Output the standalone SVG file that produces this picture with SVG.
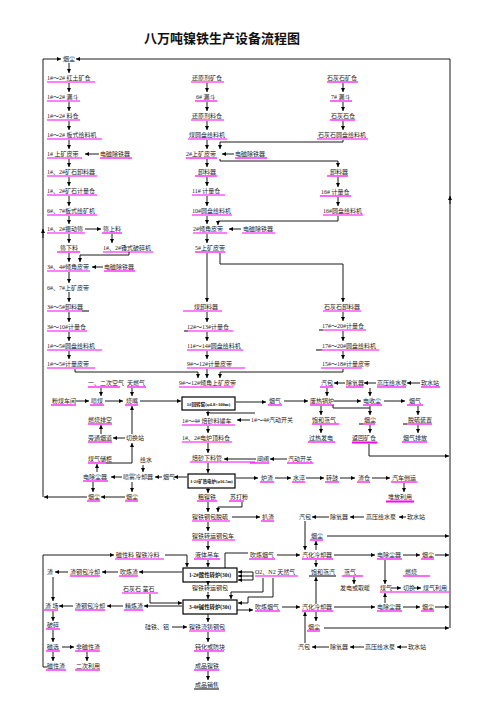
<svg xmlns="http://www.w3.org/2000/svg" width="503" height="711" viewBox="0 0 503 711">
<style>
.t{font-family:"Liberation Serif","Noto Sans CJK SC",serif;font-size:6px;fill:#222}
.ti{font-family:"Liberation Serif","Noto Sans CJK SC",serif;font-size:13px;font-weight:bold;fill:#111;text-anchor:middle}
.bt{font-family:"Liberation Serif","Noto Sans CJK SC",serif;font-size:5px;font-weight:bold;fill:#111;text-anchor:middle}
.u{stroke:#f0f;stroke-width:1.2;fill:none}
.k{stroke:#000;stroke-width:1;fill:none}
.c{stroke:#000;stroke-width:0.9;fill:none}
.a{marker-end:url(#ah)}
.box{fill:#fff;stroke:#000;stroke-width:1.2}
</style>
<defs>
<marker id="ah" viewBox="0 0 6 6" refX="6" refY="3" markerUnits="userSpaceOnUse" markerWidth="4" markerHeight="4" orient="auto"><path d="M0,0 L6,3 L0,6 z" fill="#000"/></marker>
</defs>
<rect width="503" height="711" fill="#fff"/>
<text class="ti" x="222" y="43">八万吨镍铁生产设备流程图</text>

<g id="nodes">
<g id="a0"><text class="t" x="63" y="61.2">烟尘</text></g>
<g id="a1"><text class="t" x="47" y="80.2">1#～2# 红土矿仓</text><path class="u" d="M47 82H95"/></g>
<g id="a2"><text class="t" x="47" y="99.2">1#～2# 漏斗</text><path class="u" d="M47 101H80"/></g>
<g id="a3"><text class="t" x="47" y="118.2">1#～2# 料仓</text><path class="u" d="M47 120H80"/></g>
<g id="a4"><text class="t" x="47" y="137.2">1#～2# 板式给料机</text><path class="u" d="M47 139H102"/></g>
<g id="a5"><text class="t" x="47" y="156.2">1# 上矿皮带</text><path class="u" d="M47 158H82"/></g>
<g id="a5e"><text class="t" x="100" y="156.2">电磁除铁器</text><path class="u" d="M100 158H132"/></g>
<g id="a6"><text class="t" x="47" y="174.2">1#、2#矿石卸料器</text><path class="u" d="M47 176H97"/></g>
<g id="a7"><text class="t" x="47" y="193.2">1#、2#矿石计量仓</text><path class="u" d="M47 195H97"/></g>
<g id="a8"><text class="t" x="47" y="213.2">6#、7#板式给矿机</text><path class="u" d="M47 215H97"/></g>
<g id="a9"><text class="t" x="47" y="231.2">1#、2#振动筛</text><path class="u" d="M47 233H85"/></g>
<g id="a9a"><text class="t" x="103" y="231.2">筛上料</text><path class="u" d="M102 233H122"/></g>
<g id="a9b"><text class="t" x="60" y="250.2">筛下料</text><path class="u" d="M57 252H80"/></g>
<g id="a9c"><text class="t" x="103" y="250.2">1#、2#锤式破碎机</text><path class="u" d="M103 252H153"/></g>
<g id="a10"><text class="t" x="47" y="269.2">3#、4#倾角皮带</text><path class="u" d="M47 271H90"/></g>
<g id="a10e"><text class="t" x="104" y="269.2">电磁除铁器</text><path class="u" d="M104 271H135"/></g>
<g id="a11"><text class="t" x="47" y="290.2">6#、7#上矿皮带</text></g>
<g id="a12"><text class="t" x="47" y="309.2">3#～5#卸料器</text><path class="u" d="M47 311H82"/><path class="k" d="M82 311H89"/></g>
<g id="a13"><text class="t" x="47" y="329.2">3#～10#计量仓</text><path class="u" d="M47 331H87"/></g>
<g id="a14"><text class="t" x="47" y="348.2">1#～5#圆盘给料机</text><path class="u" d="M47 350H102"/></g>
<g id="a15"><text class="t" x="47" y="366.2">1#～5#计量皮带</text><path class="u" d="M47 368H95"/></g>

<g id="b1"><text class="t" x="192" y="80.2">还原剂矿仓</text><path class="u" d="M191 82H224"/></g>
<g id="b2"><text class="t" x="196" y="99.2">6# 漏斗</text><path class="u" d="M195 101H217"/></g>
<g id="b3"><text class="t" x="192" y="118.2">还原剂料仓</text><path class="u" d="M191 120H224"/></g>
<g id="b4"><text class="t" x="189" y="137.2">煤圆盘给料机</text><path class="u" d="M188 139H227"/></g>
<g id="b5"><text class="t" x="186" y="156.2">2#上矿皮带</text><path class="u" d="M186 158H217"/></g>
<g id="b5e"><text class="t" x="235" y="156.2">电磁除铁器</text><path class="u" d="M235 158H267"/></g>
<g id="b6"><text class="t" x="198" y="174.2">卸料器</text><path class="u" d="M195 176H217"/></g>
<g id="b7"><text class="t" x="192" y="193.2">11# 计量仓</text><path class="u" d="M192 195H225"/></g>
<g id="b8"><text class="t" x="192" y="213.2">10#圆盘给料机</text><path class="u" d="M192 215H232"/></g>
<g id="b9"><text class="t" x="193" y="231.2">2#倾角皮带</text><path class="u" d="M193 233H227"/></g>
<g id="b9e"><text class="t" x="243" y="231.2">电磁除铁器</text><path class="u" d="M242 233H275"/></g>
<g id="b10"><text class="t" x="195" y="250.2">5#上矿皮带</text><path class="u" d="M195 252H225"/></g>
<g id="b11"><text class="t" x="194" y="309.2">煤卸料器</text><path class="u" d="M183 311H222"/></g>
<g id="b12"><text class="t" x="187" y="329.2">12#～13#计量仓</text><path class="k" d="M184 331H188"/><path class="u" d="M188 331H233"/></g>
<g id="b13"><text class="t" x="187" y="348.2">11#～14#圆盘给料机</text><path class="u" d="M187 350H243"/></g>
<g id="b14"><text class="t" x="187" y="366.2">9#～12#计量皮带</text><path class="u" d="M187 368H245"/></g>
<g id="b15"><text class="t" x="179" y="385.2">9#～12#倾角上矿皮带</text><path class="u" d="M179 387H233"/></g>

<g id="c1"><text class="t" x="327" y="80.2">石灰石矿仓</text><path class="u" d="M327 82H358"/></g>
<g id="c2"><text class="t" x="331" y="99.2">7# 漏斗</text><path class="u" d="M330 101H352"/></g>
<g id="c3"><text class="t" x="331" y="118.2">石灰石仓</text><path class="u" d="M330 120H355"/></g>
<g id="c4"><text class="t" x="318" y="137.2">石灰石圆盘给料机</text><path class="u" d="M317 139H368"/></g>
<g id="c5"><text class="t" x="330" y="174.2">卸料器</text><path class="u" d="M327 176H348"/></g>
<g id="c6"><text class="t" x="321" y="194.2">16# 计量仓</text><path class="u" d="M320 196H351"/></g>
<g id="c7"><text class="t" x="323" y="213.2">16#圆盘给料机</text><path class="u" d="M323 215H363"/></g>
<g id="c8"><text class="t" x="324" y="309.2">石灰石卸料器</text><path class="u" d="M323 311H361"/></g>
<g id="c9"><text class="t" x="322" y="328.2">17#～20#计量仓</text><path class="k" d="M319 330H323"/><path class="u" d="M323 330H366"/></g>
<g id="c10"><text class="t" x="322" y="348.2">17#～20#圆盘给料机</text><path class="k" d="M316 350H322"/><path class="u" d="M322 350H379"/></g>
<g id="c11"><text class="t" x="322" y="366.2">15#～18#计量皮带</text><path class="u" d="M321 368H362"/></g>

<g id="d1"><text class="t" x="88" y="385.2">一、二次空气</text><path class="u" d="M88 387H120"/></g>
<g id="d2"><text class="t" x="127" y="385.2">天燃气</text><path class="u" d="M127 387H146"/></g>
<g id="d3"><text class="t" x="52" y="403.2">粉煤车间</text><path class="u" d="M51 405H76"/></g>
<g id="d4"><text class="t" x="91" y="403.2">喷煤</text><path class="u" d="M90 405H104"/></g>
<g id="d5"><text class="t" x="126" y="403.2">烧嘴</text><path class="u" d="M125 405H138"/></g>
<g id="d6"><rect class="box" x="182" y="397" width="53" height="13"/><text class="bt" x="208.5" y="405.5" style="font-size:4.6px">1#回转窑(φ4.8×100m)</text></g>
<g id="d7"><text class="t" x="269" y="403.2">烟气</text><path class="u" d="M268 405H282"/></g>
<g id="d8"><text class="t" x="310" y="403.2">废热锅炉</text><path class="u" d="M310 405H334"/></g>
<g id="d9"><text class="t" x="363" y="403.2">电收尘</text><path class="u" d="M363 405H382"/></g>
<g id="d10"><text class="t" x="409" y="403.2">烟气</text><path class="u" d="M407 405H423"/></g>
<g id="d11"><text class="t" x="321" y="385.2">汽包</text><path class="u" d="M320 387H333"/></g>
<g id="d12"><text class="t" x="346" y="385.2">除氧器</text><path class="u" d="M346 387H363"/></g>
<g id="d13"><text class="t" x="377" y="385.2">高压给水泵</text><path class="u" d="M377 387H406"/></g>
<g id="d14"><text class="t" x="421" y="385.2">软水站</text><path class="u" d="M421 387H440"/></g>
<g id="d15"><text class="t" x="88" y="422.2">燃烧排空</text><path class="u" d="M88 424H112"/></g>
<g id="d16"><text class="t" x="182" y="423.2">1#～4# 焙砂料罐车</text><path class="u" d="M182 425H235"/></g>
<g id="d17"><text class="t" x="251" y="422.2">1#～4#汽动开关</text></g>
<g id="d18"><text class="t" x="312" y="422.2">饱和蒸气</text><path class="u" d="M312 424H339"/></g>
<g id="d19"><text class="t" x="364" y="422.2">烟尘</text><path class="k" d="M359 424H363"/><path class="u" d="M363 424H375"/></g>
<g id="d20"><text class="t" x="408" y="422.2">脱硫装置</text><path class="k" d="M403 424H407"/><path class="u" d="M407 424H432"/></g>
<g id="d21"><text class="t" x="88" y="440.2">旁通烟道</text><path class="u" d="M88 442H112"/></g>
<g id="d22"><text class="t" x="126" y="440.2">切换站</text></g>
<g id="d23"><text class="t" x="182" y="440.2">1#、2#电炉顶料仓</text><path class="u" d="M182 442H232"/></g>
<g id="d24"><text class="t" x="309" y="440.2">过热发电</text><path class="u" d="M308 442H335"/></g>
<g id="d25"><text class="t" x="352" y="440.2">返回矿仓</text><path class="u" d="M352 442.5H377" style="stroke-width:2"/></g>
<g id="d26"><text class="t" x="403" y="440.2">烟气排放</text><path class="u" d="M402 442H427"/></g>
<g id="d27"><text class="t" x="88" y="461.2">煤气储柜</text><path class="u" d="M88 463H106"/><path class="k" d="M106 463H112"/></g>
<g id="d28"><text class="t" x="140" y="462.2">给水</text></g>
<g id="d29"><text class="t" x="192" y="460.2">焙砂下料管</text><path class="u" d="M190 462H255"/></g>
<g id="d30"><text class="t" x="257" y="461.2">闸阀</text><path class="u" d="M250 463H269"/></g>
<g id="d31"><text class="t" x="288" y="461.2">汽动开关</text><path class="u" d="M287 463H313"/></g>
<g id="d32"><text class="t" x="83" y="479.2">电除尘器</text><path class="u" d="M83 481H108"/></g>
<g id="d33"><text class="t" x="123" y="479.2">喷雾冷却器</text></g>
<g id="d34"><text class="t" x="163" y="479.2">烟气</text></g>
<g id="d35"><rect class="box" x="188" y="474" width="47" height="14"/><text class="bt" x="211.5" y="483" style="font-size:4.4px">1-2#矿热电炉(φ16.5m)</text></g>
<g id="d36"><text class="t" x="261" y="480.2">炉渣</text><path class="u" d="M260 482H274"/></g>
<g id="d37"><text class="t" x="293" y="480.2">水淬</text><path class="u" d="M292 482H305"/></g>
<g id="d38"><text class="t" x="326" y="480.2">转鼓</text><path class="u" d="M325 482H339"/></g>
<g id="d39"><text class="t" x="358" y="480.2">渣仓</text><path class="u" d="M357 482H370"/></g>
<g id="d40"><text class="t" x="392" y="480.2">汽车倒运</text><path class="u" d="M391 482H417"/></g>
<g id="d41"><text class="t" x="388" y="499.2">堆放利用</text><path class="u" d="M386 501.5H414" style="stroke-width:2"/></g>
<g id="d42"><text class="t" x="88" y="499.2">烟尘</text><path class="u" d="M87 501H100"/></g>
<g id="d43"><text class="t" x="126" y="499.2">烟尘</text><path class="u" d="M125 501H138"/></g>
<g id="d44"><text class="t" x="198" y="499.2">粗镍铁</text><path class="u" d="M197 501H217"/></g>
<g id="d45"><text class="t" x="230" y="499.2">苏打粉</text><path class="u" d="M229 501H244"/></g>

<g id="e1"><text class="t" x="192" y="519.2">镍铁钢包脱硫</text><path class="u" d="M192 521H230"/></g>
<g id="e2"><text class="t" x="262" y="519.2">扒渣</text><path class="u" d="M261 521H274"/></g>
<g id="e3"><text class="t" x="299" y="519.2">汽包</text></g>
<g id="e4"><text class="t" x="330" y="519.2">除氧器</text></g>
<g id="e5"><text class="t" x="366" y="519.2">高压给水泵</text></g>
<g id="e6"><text class="t" x="407" y="519.2">软水站</text></g>
<g id="e7"><text class="t" x="192" y="538.2">镍铁转运钢包车</text><path class="u" d="M192 540H235"/></g>
<g id="e8"><text class="t" x="311" y="538.2">烟尘</text><path class="u" d="M310 540H323"/></g>
<g id="e9"><text class="t" x="116" y="557.2">磁性料 镍铁冷料</text><path class="u" d="M115 559H164"/></g>
<g id="e10"><text class="t" x="195" y="557.2">液体吊车</text><path class="u" d="M194 559H220"/></g>
<g id="e11"><text class="t" x="250" y="557.2">吹炼烟气</text><path class="u" d="M249 559H275"/></g>
<g id="e12"><text class="t" x="302" y="557.2">汽化冷却器</text><path class="u" d="M302 559H333"/></g>
<g id="e13"><text class="t" x="377" y="557.2">电除尘器</text><path class="u" d="M377 559H402"/></g>
<g id="e14"><text class="t" x="422" y="557.2">烟尘</text><path class="u" d="M421 559H434"/></g>
<g id="e15"><rect class="box" x="183" y="568" width="54" height="14"/><text class="bt" x="210" y="577" style="font-size:5.4px">1-2#酸性转炉(30t)</text></g>
<g id="e16"><text class="t" x="47" y="574.2">渣</text></g>
<g id="e17"><text class="t" x="70" y="574.2">渣钢包冷却</text><path class="u" d="M70 576H100"/></g>
<g id="e18"><text class="t" x="120" y="574.2">吹炼渣</text><path class="u" d="M119 576H138"/></g>
<g id="e19"><text class="t" x="255" y="574.2">O2、N2 天然气</text><path class="u" d="M255 576H298"/></g>
<g id="e20"><text class="t" x="311" y="574.2">饱和蒸汽</text><path class="k" d="M309 576H336"/></g>
<g id="e21"><text class="t" x="344" y="574.2">蒸气</text><path class="u" d="M342 576H363"/></g>
<g id="e22"><text class="t" x="405" y="574.2">燃烧</text><path class="u" d="M403 576H430"/></g>
<g id="e23"><text class="t" x="123" y="591.2">石灰石 萤石</text><path class="u" d="M122 593H158"/></g>
<g id="e24"><text class="t" x="192" y="590.2">镍铁转运钢包</text></g>
<g id="e25"><text class="t" x="340" y="590.2">发电或取暖</text></g>
<g id="e26"><text class="t" x="380" y="590.2">煤气</text></g>
<g id="e27"><text class="t" x="403" y="590.2">切换</text></g>
<g id="e28"><text class="t" x="423" y="590.2">煤气利用</text><path class="u" d="M380 592H449"/></g>

<g id="f1"><rect class="box" x="183" y="600" width="54" height="14"/><text class="bt" x="210" y="609" style="font-size:5.4px">3-4#碱性转炉(30t)</text></g>
<g id="f2"><text class="t" x="45" y="608.2">渣 场</text><path class="u" d="M44 610H58"/></g>
<g id="f3"><text class="t" x="75" y="608.2">渣钢包冷却</text><path class="u" d="M75 610H105"/></g>
<g id="f4"><text class="t" x="125" y="608.2">精炼渣</text><path class="u" d="M124 610H143"/></g>
<g id="f5"><text class="t" x="255" y="609.2">吹炼烟气</text><path class="u" d="M255 611H280"/></g>
<g id="f6"><text class="t" x="302" y="609.2">汽化冷却器</text><path class="u" d="M302 611H333"/></g>
<g id="f7"><text class="t" x="377" y="609.2">电除尘器</text><path class="u" d="M377 611H402"/></g>
<g id="f8"><text class="t" x="422" y="609.2">烟尘</text><path class="u" d="M421 611H434"/></g>
<g id="f9"><text class="t" x="47" y="627.2">破碎</text><path class="u" d="M46 629H60"/></g>
<g id="f10"><text class="t" x="145" y="629.2">硅铁、铝</text></g>
<g id="f11"><text class="t" x="189" y="629.2">镍铁浇铸钢包</text><path class="u" d="M189 631H225"/></g>
<g id="f12"><text class="t" x="308" y="629.2">烟尘</text><path class="u" d="M307 631H320"/></g>
<g id="f13"><text class="t" x="298" y="649.2">汽包</text></g>
<g id="f14"><text class="t" x="330" y="649.2">除氧器</text></g>
<g id="f14b"><text class="t" x="365" y="649.2">高压给水泵</text></g>
<g id="f14c"><text class="t" x="408" y="649.2">软水站</text></g>
<g id="f15"><text class="t" x="47" y="649.2">磁选</text><path class="u" d="M46 651H60"/></g>
<g id="f16"><text class="t" x="76" y="649.2">非磁性渣</text><path class="u" d="M75 651H100"/></g>
<g id="f17"><text class="t" x="195" y="649.2">钝化或防块</text><path class="u" d="M194 651H224"/></g>
<g id="f18"><text class="t" x="47" y="668.2">磁性渣</text><path class="u" d="M46 670H66"/></g>
<g id="f19"><text class="t" x="76" y="668.2">二次利用</text><path class="u" d="M75 670H100"/></g>
<g id="f20"><text class="t" x="195" y="668.2">成品镍铁</text><path class="u" d="M194 670H219"/></g>
<g id="f21"><text class="t" x="195" y="687.2">成品销售</text><path class="k" d="M194 689H219"/></g>
</g>

<g id="connectors">
<path class="c a" d="M43 497V59H61"/>
<path class="c a" d="M43 238V229"/>
<path class="c a" d="M450 628V59H76"/>
<path class="c a" d="M450 204V196"/>
<path class="c a" d="M69 63V73"/><path class="c a" d="M69 83V92"/><path class="c a" d="M69 102V111"/><path class="c a" d="M69 121V130"/><path class="c a" d="M69 140V149"/>
<path class="c a" d="M99 154H85"/>
<path class="c a" d="M69 159V167"/><path class="c a" d="M69 177V186"/><path class="c a" d="M69 196V206"/><path class="c a" d="M69 216V224"/>
<path class="c a" d="M85 229H101"/>
<path class="c a" d="M112 234V243"/>
<path class="c a" d="M69 234V243"/>
<path class="c a" d="M129 252V255H80V262"/>
<path class="c a" d="M69 253V262"/>
<path class="c a" d="M103 267H92"/>
<path class="c a" d="M69 272V283"/><path class="c a" d="M69 292V302"/><path class="c a" d="M69 312V322"/><path class="c a" d="M69 332V341"/><path class="c a" d="M69 351V359"/>
<path class="c a" d="M75 369V372H198V378"/>
<path class="c a" d="M207 83V92"/><path class="c a" d="M207 102V111"/><path class="c a" d="M207 121V130"/><path class="c a" d="M207 140V149"/>
<path class="c a" d="M343 83V92"/><path class="c a" d="M343 102V111"/><path class="c a" d="M343 121V130"/>
<path class="c a" d="M343 140V142H220V149"/>
<path class="c a" d="M234 154H222"/>
<path class="c a" d="M207 159V167"/>
<path class="c a" d="M220 159V161H338V167"/>
<path class="c a" d="M207 177V186"/><path class="c a" d="M207 196V206"/><path class="c a" d="M207 216V224"/>
<path class="c a" d="M338 177V187"/><path class="c a" d="M338 197V206"/>
<path class="c a" d="M338 216V221H218V225"/>
<path class="c a" d="M241 229H229"/>
<path class="c a" d="M207 234V243"/>
<path class="c a" d="M207 253V302"/>
<path class="c a" d="M220 253V264H343V302"/>
<path class="c a" d="M207 312V322"/><path class="c a" d="M207 332V341"/><path class="c a" d="M207 351V359"/><path class="c a" d="M207 369V378"/>
<path class="c a" d="M343 312V321"/><path class="c a" d="M343 331V341"/><path class="c a" d="M343 351V359"/>
<path class="c a" d="M343 369V372H220V378"/>
<path class="c a" d="M101 388V396"/>
<path class="c a" d="M132 388V396"/>
<path class="c a" d="M76 401H89"/>
<path class="c a" d="M105 401H123"/>
<path class="c a" d="M140 401H181"/>
<path class="c a" d="M236 402H266"/>
<path class="c a" d="M284 401H308"/>
<path class="c a" d="M334 401H361"/>
<path class="c a" d="M384 401H405"/>
<path class="c a" d="M327 388V396"/>
<path class="c a" d="M370 388V396"/>
<path class="c a" d="M345 383H334"/><path class="c a" d="M376 383H364"/><path class="c a" d="M420 383H407"/>
<path class="c a" d="M321 406V415"/><path class="c a" d="M321 425V433"/>
<path class="c" d="M333 405V408H370"/>
<path class="c a" d="M370 406V415"/>
<path class="c a" d="M370 425V433"/>
<path class="c a" d="M369 444V456H449"/>
<path class="c a" d="M418 406V415"/><path class="c a" d="M418 425V433"/>
<path class="c a" d="M208 411V416"/>
<path class="c" d="M255 413H210"/>
<path class="c a" d="M250 420H237"/>
<path class="c a" d="M101 434V425"/>
<path class="c a" d="M125 438H113"/>
<path class="c a" d="M132 434V406"/>
<path class="c a" d="M112 463H132V443"/>
<path class="c a" d="M97 472V464"/>
<path class="c a" d="M208 426V433"/>
<path class="c a" d="M208 443V453"/>
<path class="c a" d="M256 459H224"/>
<path class="c a" d="M287 459H270"/>
<path class="c a" d="M208 463V473"/>
<path class="c a" d="M187 477H174"/>
<path class="c a" d="M162 477H155"/>
<path class="c a" d="M122 477H111"/>
<path class="c a" d="M143 465V472"/>
<path class="c a" d="M93 482V492"/>
<path class="c a" d="M132 482V492"/>
<path class="c a" d="M125 497H101"/>
<path class="c a" d="M87 497H44"/>
<path class="c a" d="M236 478H258"/>
<path class="c a" d="M275 478H291"/><path class="c a" d="M306 478H324"/><path class="c a" d="M340 478H355"/><path class="c a" d="M372 478H390"/>
<path class="c a" d="M404 483V492"/>
<path class="c a" d="M208 488V493"/>
<path class="c a" d="M208 502V512"/>
<path class="c a" d="M242 502V507H218V512"/>
<path class="c a" d="M232 517H260"/>
<path class="c a" d="M329 517H312"/><path class="c a" d="M364 517H350"/><path class="c a" d="M406 517H399"/>
<path class="c a" d="M305 521V550"/>
<path class="c a" d="M208 522V531"/>
<path class="c a" d="M208 541V550"/>
<path class="c a" d="M208 560V567"/>
<path class="c a" d="M47 667H43V555H114"/>
<path class="c a" d="M165 555H187V567"/>
<path class="c" d="M225 568V553H248"/>
<path class="c a" d="M277 555H300"/>
<path class="c a" d="M334 555H375"/>
<path class="c a" d="M403 555H420"/>
<path class="c a" d="M435 555H449"/>
<path class="c a" d="M316 550V541"/>
<path class="c a" d="M327 536H449"/>
<path class="c a" d="M316 560V567"/>
<path class="c a" d="M354 577V584"/>
<path class="c a" d="M385 560V584"/>
<path class="c a" d="M391 588H401"/>
<path class="c a" d="M414 588H421"/>
<path class="c a" d="M385 603V593"/>
<path class="c a" d="M316 604V577"/>
<path class="c a" d="M182 572H139"/>
<path class="c a" d="M118 572H102"/>
<path class="c a" d="M68 572H55"/>
<path class="c a" d="M53 577V601"/>
<path class="c" d="M253 572V580"/>
<path class="c a" d="M253 572H238"/><path class="c a" d="M253 576H238"/><path class="c a" d="M253 580H238"/>
<path class="c a" d="M263 578V592H231V599"/>
<path class="c a" d="M273 578V597H248V603H238"/>
<path class="c a" d="M150 594V603H182"/>
<path class="c a" d="M208 582V585"/>
<path class="c a" d="M208 592V599"/>
<path class="c a" d="M182 606H144"/>
<path class="c a" d="M123 606H107"/>
<path class="c a" d="M73 606H59"/>
<path class="c a" d="M53 611V621"/>
<path class="c a" d="M53 630V642"/>
<path class="c a" d="M62 647H74"/>
<path class="c a" d="M53 652V661"/>
<path class="c a" d="M87 652V661"/>
<path class="c a" d="M237 610H253"/>
<path class="c a" d="M282 607H300"/>
<path class="c a" d="M334 607H375"/>
<path class="c a" d="M403 607H420"/>
<path class="c a" d="M435 607H449"/>
<path class="c a" d="M316 612V621"/>
<path class="c a" d="M324 628H449"/>
<path class="c a" d="M305 643V612"/>
<path class="c a" d="M329 647H312"/><path class="c a" d="M364 647H350"/><path class="c a" d="M407 647H397"/>
<path class="c a" d="M208 614V622"/>
<path class="c a" d="M172 627H187"/>
<path class="c a" d="M208 632V642"/>
<path class="c a" d="M208 652V661"/>
<path class="c a" d="M208 671V680"/>
</g>
</svg>
